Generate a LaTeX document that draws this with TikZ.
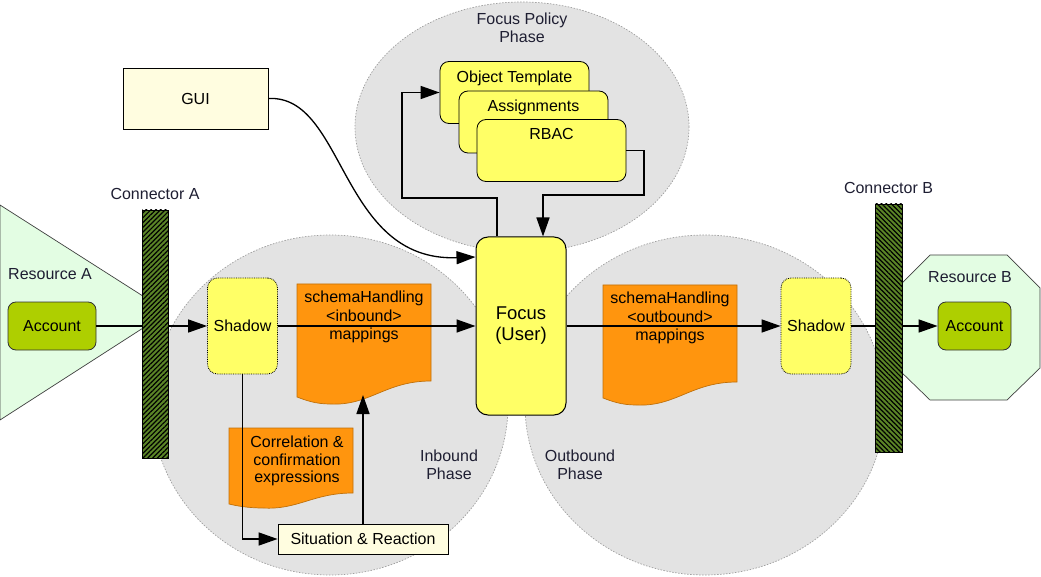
\documentclass[tikz,border=0pt]{standalone}
\usepackage{fontspec}
\setmainfont{Liberation Sans}
\usetikzlibrary{arrows.meta,positioning,calc,patterns.meta}
\definecolor{PhaseGray}{HTML}{E3E3E3}
\definecolor{FocusYellow}{HTML}{FFFF66}
\definecolor{MapOrange}{HTML}{FF950E}
\definecolor{AccountGreen}{HTML}{AECF00}
\definecolor{ResourceGreen}{HTML}{E3FDE3}
\definecolor{ConnGreen}{HTML}{5B8527}
\definecolor{PaleYellow}{HTML}{FFFDE0}
\definecolor{LabelInk}{HTML}{1E1E32}

\begin{document}
\begin{tikzpicture}[x=1pt,y=-1pt,
  every node/.style={font=\fontsize{16}{18.5}\selectfont},
  phase/.style={fill=PhaseGray,draw=gray!75,dash pattern=on 1.5pt off 1.5pt,line width=0.7pt},
  resource/.style={fill=ResourceGreen,draw=black!75,line width=0.7pt},
  acct/.style={draw=black!80,fill=AccountGreen,rounded corners=8pt,line width=0.8pt,minimum height=48pt},
  shadowbox/.style={draw,densely dotted,fill=FocusYellow,rounded corners=10pt,line width=0.8pt,minimum width=70pt,minimum height=96pt},
  conn/.style={draw,line width=0.8pt,minimum width=26pt,minimum height=248pt,inner sep=0pt,preaction={fill=ConnGreen},pattern={Lines[angle=#1,distance=3.4pt,line width=1.2pt]},pattern color=black},
  plainbox/.style={draw,fill=PaleYellow,line width=0.8pt},
  policy/.style={draw,fill=FocusYellow,rounded corners=9pt,line width=0.8pt,minimum width=149pt,minimum height=62pt},
  policytext/.style={anchor=north,inner sep=0pt,yshift=-9.5pt},
  mapdoc/.style={fill=MapOrange,draw=MapOrange!75!black,line width=0.7pt},
  doctext/.style={align=center,anchor=north,inner sep=0pt},
  lbl/.style={text=LabelInk,align=center},
  arr/.style={-{Triangle[length=19pt,width=13pt]},line width=1.5pt}
]
  \useasboundingbox (0,0) rectangle (1041,577);

  % phases
  \draw[phase] (522,127) ellipse [x radius=167pt,y radius=125pt];
  \draw[phase] (330,405) ellipse [x radius=178pt,y radius=170pt];
  \draw[phase] (705,405) ellipse [x radius=180pt,y radius=170pt];
  \node[lbl] (policylbl) at (522,28) {Focus Policy\\Phase};
  \node[lbl] (inlbl) at (449,465) {Inbound\\Phase};
  \node[lbl] (outlbl) at (580,465) {Outbound\\Phase};

  % resources
  \draw[resource] (0,205) -- (168,312) -- (0,420) -- cycle;
  \draw[resource] (930,255) -- (1007,255) -- (1040,288) -- (1040,368) -- (1007,400) -- (930,400) -- (897,368) -- (897,288) -- cycle;
  \node[lbl] (resAlbl) at (50,274) {Resource A};
  \node[lbl] (resBlbl) at (970,277) {Resource B};

  % mapping documents
  \draw[mapdoc] (297,284) -- ++(134,0) -- ++(0,97) .. controls +(-46,0) and +(40,2) .. ++(-101,23) .. controls +(-15,0) and +(8,3) .. ++(-33,-7) -- cycle;
  \draw[mapdoc] (603,285) -- ++(134,0) -- ++(0,97) .. controls +(-46,0) and +(40,2) .. ++(-101,23) .. controls +(-15,0) and +(8,3) .. ++(-33,-7) -- cycle;
  \draw[mapdoc] (229,428) -- ++(124,0) -- ++(0,65) .. controls +(-40,0) and +(35,2) .. ++(-90,15) .. controls +(-14,0) and +(8,2) .. ++(-34,-4) -- cycle;
  \node[doctext] (inmap) at (364,291) {schemaHandling\\<inbound>\\mappings};
  \node[doctext] (outmap) at (670,292) {schemaHandling\\<outbound>\\mappings};
  \node[doctext,font=\fontsize{16}{17.5}\selectfont] (corr) at (297,436) {Correlation \&\\confirmation\\expressions};
  \coordinate (inmapbot) at (363,395);

  % boxes
  \node[acct,minimum width=88pt] (acctA) at (52,326) {Account};
  \node[acct,minimum width=73pt] (acctB) at (974.5,326) {Account};
  \node[shadowbox] (shadowA) at (242.5,326) {Shadow};
  \node[shadowbox] (shadowB) at (816,326) {Shadow};
  \node[plainbox,minimum width=145pt,minimum height=61pt] (gui) at (195.5,98.5) {GUI};
  \node[plainbox,minimum width=170pt,minimum height=30pt] (situ) at (363,539) {Situation \& Reaction};
  \node[draw,fill=FocusYellow,rounded corners=12pt,line width=1pt,minimum width=90pt,minimum height=178pt,align=center,font=\fontsize{18.5}{21}\selectfont] (focus) at (521,326) {Focus\\(User)};
  \node[policy,label={[policytext]north:Object Template}] (otpl) at (514.5,92.5) {};
  \node[policy,label={[policytext]north:Assignments}] (asgn) at (533.5,122) {};
  \node[policy,label={[policytext]north:RBAC}] (rbac) at (551.5,150.5) {};

  % connectors
  \draw[arr] (acctA) -- (shadowA);
  \draw[arr] (shadowB) -- (acctB);
  \node[conn=45] (connA) at (155,334) {};
  \node[conn=-45,minimum width=27pt] (connB) at (888.5,328) {};
  \node[lbl,above=6pt of connA] (connAlbl) {Connector A};
  \node[lbl,above=6pt of connB] (connBlbl) {Connector B};

  % flows
  \draw[arr] (shadowA) -- (focus);
  \draw[arr] (focus) -- (shadowB);
  \draw[arr] (shadowA.south) |- (situ.west);
  \draw[arr] (situ.north) -- (inmapbot);
  \draw[arr,line width=1.3pt] (gui.east) .. controls +(77,-4) and +(-136,5) .. ([yshift=69pt]focus.west);
  \coordinate (loopL) at (402,198);
  \coordinate (loopR) at (644,195);
  \draw[arr] ([xshift=-24pt]focus.north) |- (loopL) |- (otpl.west);
  \draw[arr] (rbac.east) -| (loopR) -| ([xshift=22pt]focus.north);
\end{tikzpicture}
\end{document}
